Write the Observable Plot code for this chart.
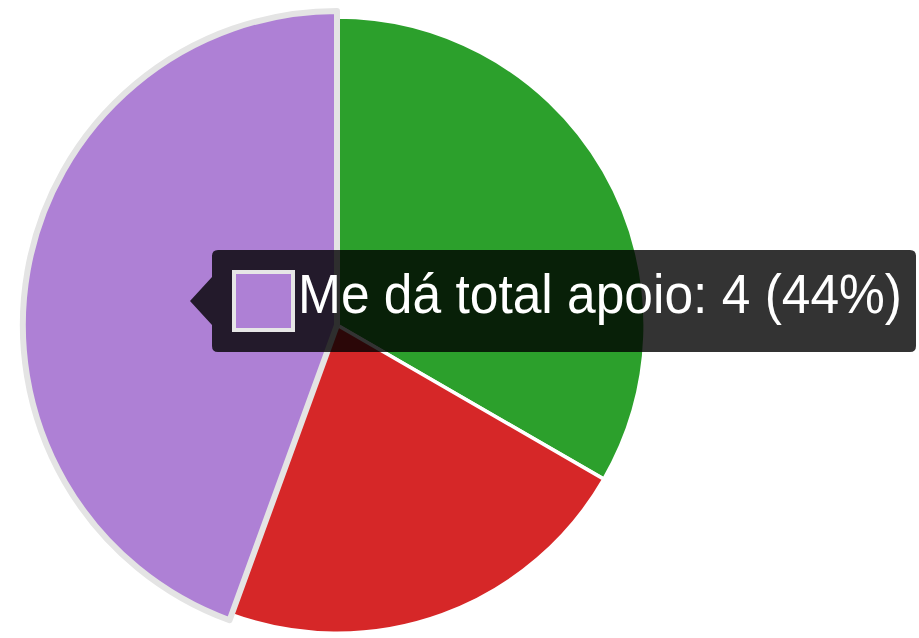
<!DOCTYPE html>
<html><head><meta charset="utf-8">
<script src="https://cdn.jsdelivr.net/npm/d3@7"></script>
<script src="https://cdn.jsdelivr.net/npm/@observablehq/plot@0.6"></script>
<style>html,body{margin:0;padding:0;background:#fff;overflow:hidden}</style>
</head><body><div id="chart"></div>
<script>
// Data (clockwise from 12 o'clock)
const labels = ["Me dá algum apoio", "Não me dá apoio", "Me dá total apoio"];
const values = [3, 2, 4];
const colors = ["#2ca02c", "#d62728", "#ae80d5"];
const hoveredLabel = "Me dá total apoio";

const data = labels.map((label, i) => ({label, value: values[i]}));
const total = d3.sum(values);

function pieMark(index, scales, channels, dims) {
  const color = (scales && scales.color) ? scales.color : d3.scaleOrdinal(labels, colors);
  const cx = dims.width * 0.3667, cy = dims.height * 0.5095;
  const r = dims.height * 0.483;
  const g = d3.create("svg:g").attr("transform", `translate(${cx},${cy})`);
  const arcs = d3.pie().sort(null).value(d => d.value)(data);
  const base = d3.arc().innerRadius(0).outerRadius(r);
  const hov = d3.arc().innerRadius(0).outerRadius(r + 6);
  g.selectAll("path.slice")
    .data(arcs.filter(a => a.data.label !== hoveredLabel))
    .join("path")
    .attr("d", base)
    .attr("fill", a => color(a.data.label))
    .attr("stroke", "#fff")
    .attr("stroke-width", 3.5)
    .attr("stroke-linejoin", "miter");
  g.selectAll("path.hov")
    .data(arcs.filter(a => a.data.label === hoveredLabel))
    .join("path")
    .attr("d", hov)
    .attr("fill", a => color(a.data.label))
    .attr("stroke", "#e4e4e4")
    .attr("stroke-width", 6)
    .attr("stroke-linejoin", "round");
  return g.node();
}

function tooltipMark(index, scales, channels, dims) {
  const color = (scales && scales.color) ? scales.color : d3.scaleOrdinal(labels, colors);
  const d = data.find(e => e.label === hoveredLabel);
  const txt = `${d.label}: ${d.value} (${Math.round(d.value / total * 100)}%)`;
  const g = d3.create("svg:g");
  const x0 = 212, x1 = 916, y0 = 250, y1 = 352, rr = 6, tipX = 190, tipY = 301, tipH = 24;
  const p = d3.path();
  p.moveTo(x0 + rr, y0);
  p.lineTo(x1 - rr, y0);
  p.quadraticCurveTo(x1, y0, x1, y0 + rr);
  p.lineTo(x1, y1 - rr);
  p.quadraticCurveTo(x1, y1, x1 - rr, y1);
  p.lineTo(x0 + rr, y1);
  p.quadraticCurveTo(x0, y1, x0, y1 - rr);
  p.lineTo(x0, tipY + tipH);
  p.lineTo(tipX, tipY);
  p.lineTo(x0, tipY - tipH);
  p.lineTo(x0, y0 + rr);
  p.quadraticCurveTo(x0, y0, x0 + rr, y0);
  p.closePath();
  g.append("path").attr("d", p.toString()).attr("fill", "rgba(0,0,0,0.8)");
  g.append("rect").attr("x", 234).attr("y", 272).attr("width", 59).attr("height", 58)
    .attr("fill", color(d.label)).attr("stroke", "#e6e6e6").attr("stroke-width", 4);
  g.append("text").attr("x", 298).attr("y", 313)
    .attr("fill", "#fff")
    .attr("text-anchor", "start")
    .attr("font-family", "'Liberation Sans', Arial, Helvetica, sans-serif")
    .attr("font-size", 56)
    .attr("textLength", 604)
    .attr("lengthAdjust", "spacingAndGlyphs")
    .text(txt);
  return g.node();
}

const chart = Plot.plot({
  width: 919,
  height: 638,
  margin: 0,
  style: {background: "#fff", overflow: "visible"},
  color: {domain: labels, range: colors},
  marks: [pieMark, tooltipMark]
});
document.getElementById("chart").append(chart);
</script>
</body></html>
